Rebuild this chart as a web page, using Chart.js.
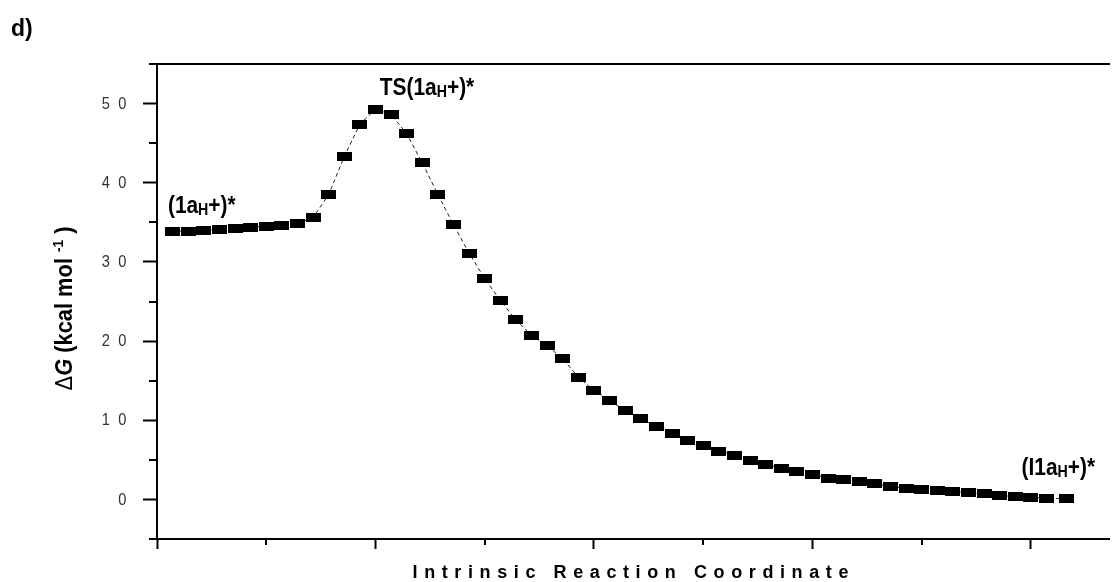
<!DOCTYPE html>
<html>
<head>
<meta charset="utf-8">
<script src="https://cdn.jsdelivr.net/npm/chart.js@4.4.1/dist/chart.umd.min.js"></script>
<style>
  html, body { margin: 0; padding: 0; background: #fff; overflow: hidden; }
  #wrap { position: relative; width: 1117px; height: 582px; }
</style>
</head>
<body>
<div id="wrap"><canvas id="irc"></canvas></div>
<script>
// IRC step number of each computed structure
const steps = [1, 2, 3, 4, 5, 6, 7, 8, 9, 10,
  11, 12, 13, 14, 15, 16, 17, 18, 19, 20,
  21, 22, 23, 24, 25, 26, 27, 28, 29, 30,
  31, 32, 33, 34, 35, 36, 37, 38, 39, 40,
  41, 42, 43, 44, 45, 46, 47, 48, 49, 50,
  51, 52, 53, 54, 55, 56, 57, 58.3];

// Relative free energy along the path (kcal/mol)
const deltaG = [33.9, 33.9, 34.0, 34.1, 34.2, 34.4, 34.5, 34.6, 34.85, 35.6,
  38.5, 43.3, 47.4, 49.3, 48.6, 46.2, 42.5, 38.5, 34.7, 31.1,
  27.9, 25.1, 22.7, 20.7, 19.4, 17.8, 15.4, 13.8, 12.5, 11.2,
  10.2, 9.2, 8.3, 7.4, 6.8, 6.1, 5.6, 4.9, 4.45, 3.95,
  3.5, 3.2, 2.7, 2.55, 2.25, 1.95, 1.65, 1.4, 1.3, 1.1,
  0.98, 0.86, 0.69, 0.48, 0.38, 0.27, 0.17, 0.08];

// Labelled values on the energy axis
const yTickLabels = [0, 10, 20, 30, 40, 50];

// Names of the stationary points (runs: sub = subscript)
const stateNames = [
  [{ t: '(1a' }, { t: 'H', sub: true }, { t: '+)*' }],
  [{ t: 'TS(1a' }, { t: 'H', sub: true }, { t: '+)*' }],
  [{ t: '(I1a' }, { t: 'H', sub: true }, { t: '+)*' }]
];

// Where each name sits, in axis units (left edge, baseline)
const stateNamePos = [
  { x: 0.70, y: 36.2 },
  { x: 14.28, y: 51.1 },
  { x: 55.4, y: 3.08 }
];

const FONT = '"Liberation Sans", Arial, Helvetica, sans-serif';

// Black rectangular marker used for every point
const marker = document.createElement('canvas');
marker.width = 15;
marker.height = 9;
(function () {
  const m = marker.getContext('2d');
  m.fillStyle = '#000';
  m.fillRect(0, 0, 15, 9);
})();

function runFont(r, size) {
  const fs = r.sub ? size * 0.68 : r.sup ? size * 0.62 : size;
  return (r.italic ? 'italic ' : '') + (r.weight || 'bold') + ' ' + fs + 'px ' + FONT;
}

function runsWidth(ctx, runs, size) {
  let w = 0;
  for (const r of runs) { ctx.font = runFont(r, size); w += ctx.measureText(r.t).width; }
  return w;
}

function drawRuns(ctx, runs, size, x0) {
  let cx = x0;
  for (const r of runs) {
    ctx.font = runFont(r, size);
    const dy = r.sub ? size * 0.1 : r.sup ? -size * 0.4 : 0;
    ctx.fillText(r.t, cx, dy);
    cx += ctx.measureText(r.t).width;
  }
}

function drawSpaced(ctx, text, cx, y, ls) {
  let w = 0;
  for (const ch of text) w += ctx.measureText(ch).width + ls;
  w -= ls;
  let x = cx - w / 2;
  ctx.textAlign = 'left';
  for (const ch of text) { ctx.fillText(ch, x, y); x += ctx.measureText(ch).width + ls; }
}

const decorations = {
  id: 'decorations',
  afterDraw(chart) {
    const { ctx, chartArea: ca, scales } = chart;
    const xs = scales.x, ys = scales.y;
    ctx.save();

    // shorter minor ticks
    ctx.strokeStyle = '#000';
    ctx.lineWidth = 2;
    ctx.beginPath();
    ys.ticks.forEach(t => {
      if (!yTickLabels.includes(t.value)) {
        const py = Math.round(ys.getPixelForValue(t.value));
        ctx.moveTo(ca.left - 8, py); ctx.lineTo(ca.left, py);
      }
    });
    xs.ticks.forEach(t => {
      if (t.value % 14 !== 0) {
        const px = Math.round(xs.getPixelForValue(t.value));
        ctx.moveTo(px, ca.bottom); ctx.lineTo(px, ca.bottom + 6);
      }
    });
    ctx.stroke();

    // energy tick labels, digits spread apart and right-aligned
    ctx.fillStyle = '#333';
    ctx.textBaseline = 'middle';
    ctx.textAlign = 'right';
    ctx.font = '17px ' + FONT;
    const digitPitch = 16.6, labelRight = ca.left - 30.6;
    yTickLabels.forEach(v => {
      const py = ys.getPixelForValue(v);
      const digits = String(v).split('').reverse();
      digits.forEach((d, k) => {
        ctx.save();
        ctx.translate(labelRight - k * digitPitch, py);
        ctx.scale(0.86, 1);
        ctx.fillText(d, 0, 0.5);
        ctx.restore();
      });
    });

    ctx.fillStyle = '#000';
    ctx.textBaseline = 'alphabetic';
    ctx.textAlign = 'left';

    // panel letter
    ctx.font = 'bold 23px ' + FONT;
    ctx.fillText('d)', 11, 36);

    // names of the stationary points
    const nameSize = 24, squeeze = 0.87;
    stateNames.forEach((runs, i) => {
      const p = stateNamePos[i];
      ctx.save();
      ctx.translate(xs.getPixelForValue(p.x), ys.getPixelForValue(p.y));
      ctx.scale(squeeze, 1);
      drawRuns(ctx, runs, nameSize, 0);
      ctx.restore();
    });

    // x axis title
    ctx.font = 'bold 18px ' + FONT;
    drawSpaced(ctx, 'Intrinsic Reaction Coordinate', (ca.left + ca.right) / 2 - 2.5, 577.5, 6.6);

    // y axis title
    const titleRuns = [
      { t: '\u0394', weight: 'normal' },
      { t: 'G', italic: true },
      { t: ' (kcal mol ' },
      { t: '-1', sup: true },
      { t: ' )' }
    ];
    const ts = 23;
    ctx.save();
    ctx.translate(72, (ca.top + ca.bottom) / 2 + 7);
    ctx.rotate(-Math.PI / 2);
    ctx.scale(0.95, 1);
    const tw = runsWidth(ctx, titleRuns, ts);
    drawRuns(ctx, titleRuns, ts, -tw / 2);
    ctx.restore();

    ctx.restore();
  }
};

new Chart(document.getElementById('irc'), {
  type: 'line',
  data: {
    datasets: [{
      data: steps.map((s, i) => ({ x: s, y: deltaG[i] })),
      borderColor: '#222',
      borderWidth: 1,
      borderDash: [4, 3],
      tension: 0,
      fill: false,
      pointStyle: marker,
      pointRadius: 7,
      pointHoverRadius: 7
    }]
  },
  options: {
    responsive: true,
    maintainAspectRatio: false,
    animation: false,
    events: [],
    layout: { padding: { top: 64, left: 0, right: 0, bottom: 0 } },
    plugins: { legend: { display: false }, tooltip: { enabled: false } },
    scales: {
      x: {
        type: 'linear',
        position: 'bottom',
        min: 0,
        max: 61,
        ticks: { display: false, stepSize: 7, includeBounds: false, autoSkip: false },
        grid: {
          drawOnChartArea: false,
          drawTicks: true,
          tickLength: 10,
          tickWidth: 2,
          tickColor: c => (c.tick && c.tick.value % 14 === 0) ? '#000' : 'rgba(0,0,0,0)'
        },
        border: { display: true, color: '#000', width: 2 },
        afterFit: s => { s.height = 43; s.paddingLeft = 0; s.paddingRight = 0; }
      },
      x2: {
        type: 'linear',
        position: 'top',
        min: 0,
        max: 61,
        ticks: { display: false },
        grid: { drawOnChartArea: false, drawTicks: false },
        border: { display: true, color: '#000', width: 2 },
        afterFit: s => { s.height = 0; s.paddingLeft = 0; s.paddingRight = 0; }
      },
      y: {
        type: 'linear',
        position: 'left',
        min: -5,
        max: 55,
        ticks: { display: false, stepSize: 5, autoSkip: false },
        grid: {
          drawOnChartArea: false,
          drawTicks: true,
          tickLength: 14,
          tickWidth: 2,
          tickColor: c => (c.tick && yTickLabels.includes(c.tick.value)) ? '#000' : 'rgba(0,0,0,0)'
        },
        border: { display: true, color: '#000', width: 2 },
        afterFit: s => { s.width = 157; s.paddingTop = 0; s.paddingBottom = 0; }
      }
    }
  },
  plugins: [decorations]
});
</script>
</body>
</html>
